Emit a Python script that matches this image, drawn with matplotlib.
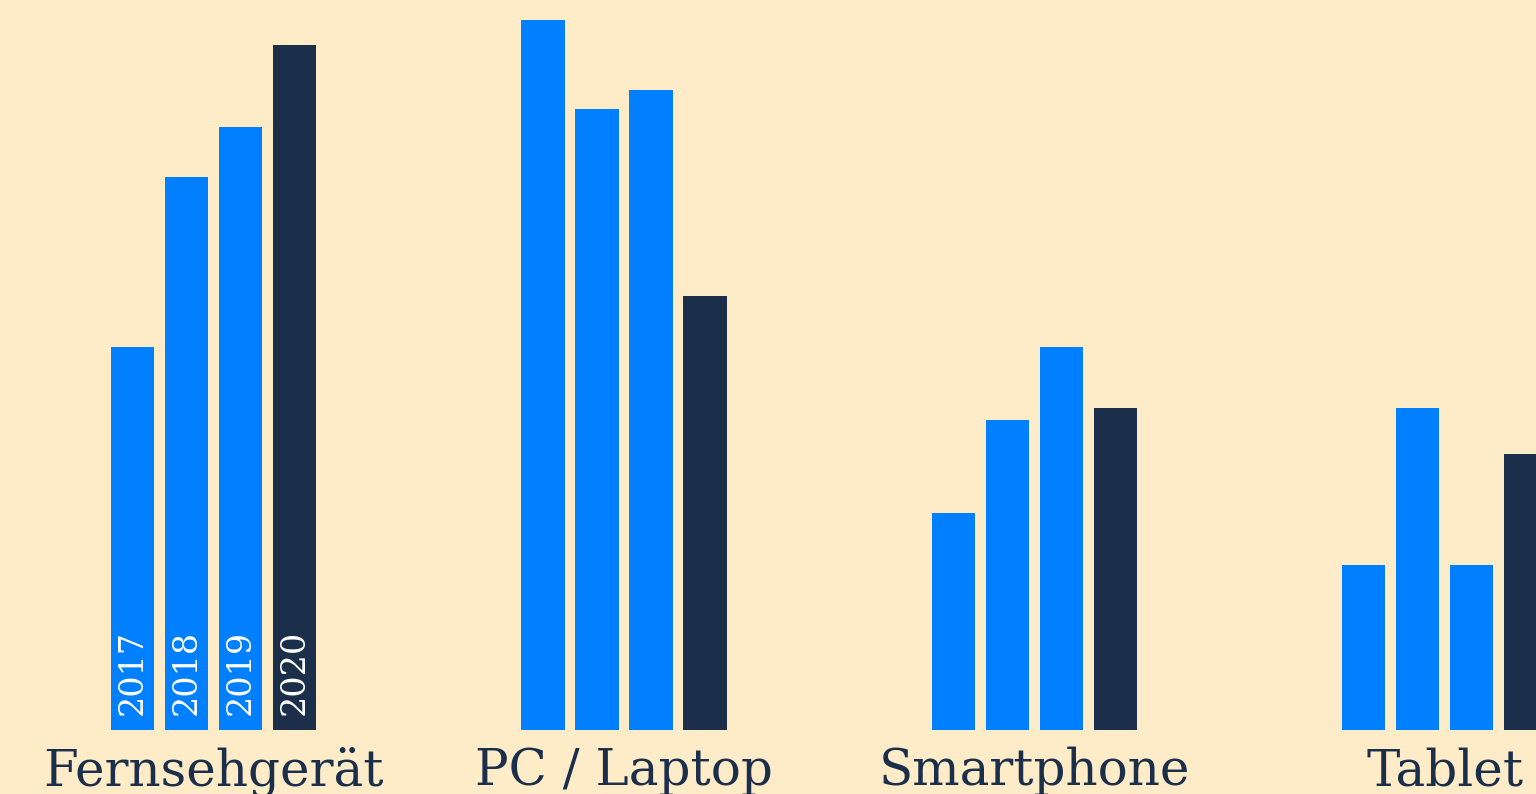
import numpy as np
import matplotlib
matplotlib.use("Agg")
import matplotlib.pyplot as plt

# device categories and yearly values (share)
categories = ["Fernsehgerät", "PC / Laptop", "Smartphone", "Tablet"]
years = ["2017", "2018", "2019", "2020"]
v2017 = [47.0, 87.1, 26.6, 20.2]
v2018 = [67.9, 76.2, 38.0, 39.5]
v2019 = [74.0, 78.5, 47.0, 20.2]
v2020 = [84.0, 53.3, 39.5, 33.9]

bg = "#FEEBC8"
blue = "#007FFF"
navy = "#1B2F4B"

fig = plt.figure(figsize=(15.36, 7.94), dpi=100, facecolor=bg)
ax = fig.add_axes([0, 0, 1, 1])
ax.set_facecolor(bg)

group_step = 7.6
width = 0.8
series = [v2017, v2018, v2019, v2020]
colors = [blue, blue, blue, navy]
gx = np.arange(len(categories)) * group_step

for j, (vals, col) in enumerate(zip(series, colors)):
    ax.bar(gx + j, vals, width=width, color=col, linewidth=0)
    # year labels only in the first group
    ax.text(gx[0] + j, 1.8, years[j], rotation=90, ha="center", va="bottom",
            color="white", fontsize=24, family="DejaVu Serif")

for x, name in zip(gx + 1.5, categories):
    ax.text(x, -6.75, name, ha="center", va="baseline", color=navy,
            fontsize=36, family="DejaVu Serif")

ax.set_xlim(-132.6 / 54, (1536 - 132.6) / 54)
ax.set_ylim(-64 / 8.15, 730 / 8.15)
ax.axis("off")

fig.savefig("out.png", dpi=100, facecolor=bg)
